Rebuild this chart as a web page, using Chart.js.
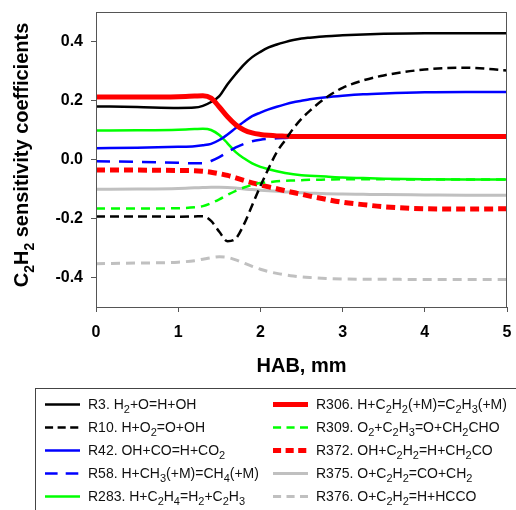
<!DOCTYPE html>
<html>
<head>
<meta charset="utf-8">
<title>C2H2 sensitivity coefficients</title>
<script src="https://cdn.jsdelivr.net/npm/chart.js@4.4.1/dist/chart.umd.min.js"></script>
<style>
  html, body { margin: 0; padding: 0; background: #fff; }
  #chart { display: block; }
</style>
</head>
<body>
<canvas id="chart" width="516" height="510"></canvas>
<script>
const FONT = "'Liberation Sans', Arial, sans-serif";

// height above burner, mm
const hab = [0, 0.5, 1.0, 1.2, 1.3, 1.4, 1.5, 1.6, 1.7, 1.8, 1.9, 2.0, 2.1, 2.2, 2.3, 2.4, 2.5, 2.6, 2.8, 3.0, 3.25, 3.5, 4.0, 4.5, 5.0];

// sensitivity coefficients
const r3   = [0.180, 0.178, 0.175, 0.176, 0.182, 0.195, 0.215, 0.255, 0.290, 0.322, 0.347, 0.365, 0.380, 0.390, 0.398, 0.405, 0.410, 0.413, 0.418, 0.421, 0.424, 0.426, 0.428, 0.428, 0.428];
const r10  = [-0.193, -0.193, -0.194, -0.193, -0.192, -0.208, -0.245, -0.277, -0.268, -0.220, -0.155, -0.090, -0.030, 0.025, 0.065, 0.105, 0.138, 0.165, 0.210, 0.243, 0.268, 0.285, 0.305, 0.311, 0.302];
const r42  = [0.038, 0.040, 0.043, 0.045, 0.048, 0.053, 0.066, 0.085, 0.107, 0.128, 0.147, 0.159, 0.170, 0.179, 0.187, 0.194, 0.199, 0.204, 0.211, 0.216, 0.221, 0.224, 0.228, 0.229, 0.229];
const r58  = [-0.006, -0.008, -0.011, -0.013, -0.013, -0.005, 0.008, 0.025, 0.041, 0.053, 0.062, 0.067, 0.070, 0.072, 0.073, 0.074, 0.075, 0.075, 0.075, 0.075, 0.075, 0.075, 0.075, 0.075, 0.075];
const r283 = [0.098, 0.099, 0.101, 0.103, 0.104, 0.100, 0.083, 0.055, 0.025, 0.004, -0.013, -0.025, -0.033, -0.040, -0.046, -0.050, -0.053, -0.055, -0.058, -0.061, -0.063, -0.065, -0.067, -0.068, -0.068];
const r306 = [0.212, 0.212, 0.213, 0.215, 0.216, 0.208, 0.178, 0.145, 0.118, 0.100, 0.090, 0.085, 0.082, 0.080, 0.079, 0.078, 0.078, 0.078, 0.078, 0.078, 0.078, 0.078, 0.078, 0.078, 0.078];
const r309 = [-0.166, -0.166, -0.165, -0.162, -0.158, -0.148, -0.135, -0.120, -0.106, -0.095, -0.086, -0.080, -0.077, -0.074, -0.072, -0.071, -0.070, -0.069, -0.068, -0.067, -0.067, -0.067, -0.068, -0.068, -0.068];
const r372 = [-0.036, -0.036, -0.037, -0.038, -0.040, -0.043, -0.048, -0.054, -0.062, -0.071, -0.079, -0.086, -0.093, -0.099, -0.106, -0.112, -0.118, -0.124, -0.135, -0.145, -0.153, -0.160, -0.167, -0.168, -0.167];
const r375 = [-0.101, -0.100, -0.098, -0.096, -0.095, -0.094, -0.094, -0.095, -0.097, -0.100, -0.102, -0.104, -0.106, -0.108, -0.110, -0.111, -0.113, -0.114, -0.116, -0.117, -0.118, -0.119, -0.120, -0.121, -0.121];
const r376 = [-0.353, -0.351, -0.348, -0.343, -0.338, -0.333, -0.330, -0.332, -0.340, -0.351, -0.362, -0.372, -0.380, -0.386, -0.391, -0.395, -0.398, -0.400, -0.403, -0.405, -0.406, -0.406, -0.407, -0.407, -0.407];

// "_" marks a subscript digit
const reactions = [
  "R3. H_2+O=H+OH",
  "R10. H+O_2=O+OH",
  "R42. OH+CO=H+CO_2",
  "R58. H+CH_3(+M)=CH_4(+M)",
  "R283. H+C_2H_4=H_2+C_2H_3",
  "R306. H+C_2H_2(+M)=C_2H_3(+M)",
  "R309. O_2+C_2H_3=O+CH_2CHO",
  "R372. OH+C_2H_2=H+CH_2CO",
  "R375. O+C_2H_2=CO+CH_2",
  "R376. O+C_2H_2=H+HCCO"
];

const xTicks = [0, 1, 2, 3, 4, 5];
const yTicks = [-0.4, -0.2, 0.0, 0.2, 0.4];

const values = [r3, r10, r42, r58, r283, r306, r309, r372, r375, r376];
const styles = [
  { color: "#000000", width: 2.5, dash: [] },
  { color: "#000000", width: 2.5, dash: [9, 5] },
  { color: "#0000ff", width: 2.5, dash: [] },
  { color: "#0000ff", width: 2.5, dash: [14, 9] },
  { color: "#00ff00", width: 2.5, dash: [] },
  { color: "#ff0000", width: 5, dash: [] },
  { color: "#00ff00", width: 2.5, dash: [9, 6] },
  { color: "#ff0000", width: 5, dash: [9, 5] },
  { color: "#c0c0c0", width: 3, dash: [] },
  { color: "#c0c0c0", width: 3, dash: [9, 6] }
];
// lower order is drawn on top
const drawOrder = [2, 0, 2, 2, 2, 1, 2, 2, 2, 2];

function drawRich(ctx, text, x, y, size, bold, align, subScale, subShift) {
  const parts = [];
  for (let i = 0; i < text.length; i++) {
    if (text[i] === "_") {
      parts.push({ t: text[i + 1], sub: true });
      i++;
    } else if (parts.length && !parts[parts.length - 1].sub) {
      parts[parts.length - 1].t += text[i];
    } else {
      parts.push({ t: text[i], sub: false });
    }
  }
  const weight = bold ? "bold " : "";
  const subSize = Math.round(size * subScale);
  let total = 0;
  parts.forEach(p => {
    ctx.font = weight + (p.sub ? subSize : size) + "px " + FONT;
    p.w = ctx.measureText(p.t).width;
    total += p.w;
  });
  let cx = align === "center" ? x - total / 2 : x;
  parts.forEach(p => {
    ctx.font = weight + (p.sub ? subSize : size) + "px " + FONT;
    ctx.fillText(p.t, cx, p.sub ? y + size * subShift : y);
    cx += p.w;
  });
}

const decorations = {
  id: "decorations",
  afterDraw(chart) {
    const ctx = chart.ctx;
    const a = chart.chartArea;
    ctx.save();

    // plot frame
    ctx.strokeStyle = "#555";
    ctx.lineWidth = 1;
    ctx.strokeRect(Math.round(a.left) + 0.5, Math.round(a.top) + 0.5,
      Math.round(a.right - a.left) - 1, Math.round(a.bottom - a.top));

    // axis titles
    ctx.fillStyle = "#000";
    ctx.textBaseline = "alphabetic";
    drawRich(ctx, "HAB, mm", (a.left + a.right) / 2, 372, 20, true, "center", 0.7, 0.3);
    ctx.translate(28, 155);
    ctx.rotate(-Math.PI / 2);
    drawRich(ctx, "C_2H_2 sensitivity coefficients", 0, 0, 20, true, "center", 0.7, 0.3);
    ctx.setTransform(1, 0, 0, 1, 0, 0);

    // legend
    ctx.strokeStyle = "#444";
    ctx.strokeRect(35.5, 388.5, 500, 140);
    ctx.fillStyle = "#111";
    reactions.forEach((label, i) => {
      const col = i < 5 ? 0 : 1;
      const row = i % 5;
      const base = 409 + row * 23;
      const lx = col === 0 ? 45 : 273;
      const tx = col === 0 ? 88 : 316;
      const st = styles[i];
      ctx.beginPath();
      ctx.strokeStyle = st.color;
      ctx.lineWidth = st.width;
      ctx.setLineDash(st.dash.length ? st.dash.map(d => d * 0.9) : []);
      ctx.moveTo(lx, base - 4.5);
      ctx.lineTo(lx + 35, base - 4.5);
      ctx.stroke();
      ctx.setLineDash([]);
      drawRich(ctx, label, tx, base, 14, false, "left", 0.8, 0.25);
    });
    ctx.restore();
  }
};

const tickFont = { family: FONT, size: 16, weight: "bold" };

new Chart(document.getElementById("chart"), {
  type: "line",
  data: {
    datasets: values.map((vals, i) => ({
      label: reactions[i],
      data: hab.map((x, j) => ({ x: x, y: vals[j] })),
      borderColor: styles[i].color,
      borderWidth: styles[i].width,
      borderDash: styles[i].dash,
      order: drawOrder[i],
      fill: false
    }))
  },
  options: {
    responsive: false,
    animation: false,
    layout: { padding: { top: 12, right: 9, bottom: 123, left: 0 } },
    plugins: {
      legend: { display: false },
      tooltip: { enabled: false }
    },
    elements: {
      point: { radius: 0 },
      line: { cubicInterpolationMode: "monotone", borderCapStyle: "butt" }
    },
    scales: {
      x: {
        type: "linear",
        min: 0,
        max: 5,
        afterBuildTicks: s => { s.ticks = xTicks.map(v => ({ value: v })); },
        afterFit: s => { s.height = 80; s.paddingLeft = 0; s.paddingRight = 0; },
        grid: { drawOnChartArea: false, tickLength: 5, color: "#555" },
        border: { color: "#555", width: 1 },
        ticks: { font: tickFont, color: "#000", padding: 11, maxRotation: 0, callback: v => String(v) }
      },
      y: {
        type: "linear",
        min: -0.5,
        max: 0.5,
        afterBuildTicks: s => { s.ticks = yTicks.map(v => ({ value: v })); },
        afterFit: s => { s.width = 96; s.paddingTop = 0; s.paddingBottom = 0; },
        grid: { drawOnChartArea: false, tickLength: 5, color: "#555" },
        border: { color: "#555", width: 1 },
        ticks: { font: tickFont, color: "#000", padding: 8, callback: v => v.toFixed(1) }
      }
    }
  },
  plugins: [decorations]
});
</script>
</body>
</html>
